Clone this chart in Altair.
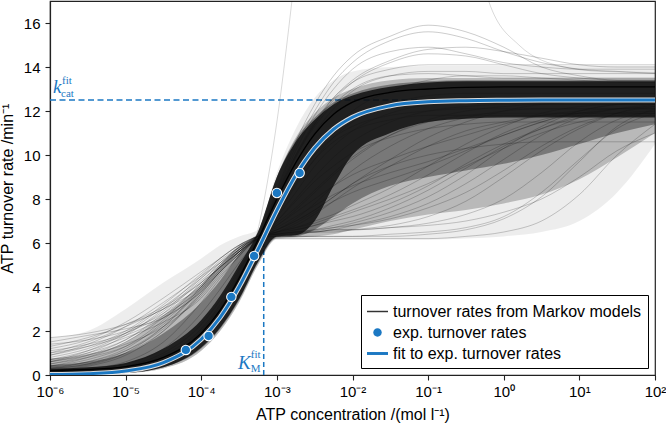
import altair as alt
import pandas as pd

# ---------------------------------------------------------------- data
# concentration grid (log10 of mol/l) shared by the model curves
log_grid = [-6, -5.5, -5, -4.5, -4, -3.75, -3.5, -3.25, -3, -2.75, -2.5,
            -2.25, -2, -1.5, -1, -0.5, 0, 0.5, 1, 1.5, 2]
conc_grid = [10.0 ** g for g in log_grid]

# fitted Michaelis-Menten parameters
k_cat = 12.5        # 1/min
K_M = 6.7e-4        # mol/l

# fitted curve tabulated on the grid
fit_rate = [0.019, 0.059, 0.184, 0.563, 1.623, 2.621, 4.008, 5.704, 7.485,
            9.079, 10.315, 11.169, 11.715, 12.24, 12.417, 12.47, 12.49,
            12.5, 12.5, 12.5, 12.5]

# experimental turnover rates
exp_conc = [6.25e-5, 1.25e-4, 2.5e-4, 5.0e-4, 1.0e-3, 2.0e-3]
exp_rate = [1.14, 1.77, 3.55, 5.41, 8.27, 9.18]

# representative Markov model (drawn solid black)
reference_model = [0.2, 0.25, 0.38, 0.8, 1.9, 2.95, 4.4, 6.15, 8.0, 9.65,
                   10.95, 11.85, 12.4, 12.85, 13.0, 13.07, 13.1, 13.1, 13.1,
                   13.1, 13.1]

# density envelopes of the Markov-model ensemble (lower / upper)
outer_lo = [0.0, 0.02, 0.08, 0.3, 1.1, 2.0, 3.3, 5.0, 6.15, 6.15, 6.15, 6.15,
            6.15, 6.15, 6.15, 6.2, 6.3, 6.5, 7.0, 8.3, 10.5]
outer_hi = [1.7, 2.0, 3.0, 4.2, 5.3, 5.9, 6.3, 6.6, 9.2, 11.2, 12.6, 13.4,
            13.8, 14.0, 14.05, 14.05, 14.05, 14.05, 14.05, 14.05, 14.05]
mid_lo = [0.0, 0.02, 0.08, 0.3, 1.1, 2.0, 3.3, 5.0, 6.2, 6.25, 6.3, 6.4, 6.6,
          7.0, 7.3, 7.5, 7.8, 8.2, 8.9, 9.9, 11.0]
mid_hi = [0.75, 0.95, 1.5, 2.7, 4.1, 5.0, 5.9, 6.45, 9.0, 10.8, 11.9, 12.6,
          13.0, 13.4, 13.5, 13.5, 13.5, 13.5, 13.5, 13.5, 13.5]
dense_lo = [0.0, 0.02, 0.09, 0.35, 1.2, 2.1, 3.4, 5.1, 6.25, 6.3, 6.6, 7.2,
            7.8, 8.6, 9.0, 9.3, 9.6, 10.0, 10.5, 11.0, 11.4]
dense_hi = [0.45, 0.6, 1.0, 1.9, 3.3, 4.3, 5.5, 6.5, 9.0, 10.7, 11.7, 12.4,
            12.8, 13.2, 13.35, 13.4, 13.4, 13.4, 13.4, 13.4, 13.4]
core_lo = [0.0, 0.02, 0.09, 0.35, 1.25, 2.15, 3.45, 5.15, 6.3, 6.35, 7.0, 8.6,
           10.0, 11.0, 11.5, 11.65, 11.7, 11.7, 11.7, 11.7, 11.7]
core_hi = [0.28, 0.35, 0.55, 1.2, 2.5, 3.6, 5.0, 6.5, 9.0, 10.6, 11.6, 12.3,
           12.7, 13.1, 13.3, 13.35, 13.35, 13.35, 13.35, 13.35, 13.35]

# individual Markov-model curves on the grid
model_curves = [
    [1.7, 1.9, 2.3, 3.0, 4.2, 4.9, 5.6, 6.2, 6.4, 6.5, 6.6, 6.7, 6.8, 7.1, 7.6, 8.3, 9.3, 10.4, 11.3, 11.9, 12.2],
    [1.2, 1.6, 2.4, 3.5, 4.7, 5.3, 5.9, 6.3, 6.4, 6.4, 6.5, 6.5, 6.6, 6.8, 7.2, 7.9, 9.0, 10.2, 11.2, 11.9, 12.3],
    [0.9, 1.3, 2.0, 3.2, 4.6, 5.3, 5.9, 6.3, 6.5, 6.7, 7.0, 7.3, 7.7, 8.5, 9.5, 10.5, 11.3, 11.9, 12.2, 12.3, 12.3],
    [0.6, 1.0, 1.8, 3.0, 4.5, 5.3, 5.9, 6.3, 6.6, 7.0, 7.5, 8.1, 8.7, 9.8, 10.8, 11.5, 12.0, 12.3, 12.4, 12.4, 12.4],
    [1.5, 1.8, 2.1, 2.6, 3.8, 4.7, 5.5, 6.2, 6.3, 6.3, 6.3, 6.3, 6.3, 6.4, 6.5, 6.7, 7.2, 8.3, 9.8, 11.2, 11.9],
    [0.4, 0.7, 1.3, 2.5, 4.2, 5.1, 5.8, 6.3, 6.8, 7.5, 8.3, 9.1, 9.8, 10.9, 11.6, 12.0, 12.2, 12.3, 12.3, 12.3, 12.3],
    [1.0, 1.5, 2.2, 3.0, 4.0, 4.8, 5.6, 6.2, 6.4, 6.5, 6.5, 6.6, 6.6, 6.7, 6.9, 7.3, 8.0, 9.2, 10.6, 11.6, 12.0],
    [0.3, 0.5, 1.0, 2.0, 3.7, 4.7, 5.6, 6.3, 7.0, 8.0, 9.0, 9.9, 10.6, 11.5, 12.0, 12.2, 12.3, 12.3, 12.3, 12.3, 12.3],
    [0.8, 1.2, 1.9, 2.7, 3.9, 4.7, 5.5, 6.2, 6.5, 6.6, 6.8, 7.0, 7.2, 7.8, 8.6, 9.6, 10.5, 11.2, 11.7, 11.9, 12.0],
    [0.2, 0.3, 0.6, 1.5, 3.3, 4.4, 5.4, 6.3, 7.2, 8.3, 9.5, 10.4, 11.1, 11.9, 12.3, 12.5, 12.5, 12.5, 12.5, 12.5, 12.5],
    [0.5, 0.9, 1.6, 2.8, 4.3, 5.0, 5.7, 6.3, 6.4, 6.5, 6.5, 6.6, 6.6, 6.7, 6.8, 7.0, 7.4, 8.0, 9.0, 10.2, 11.0],
    [0.7, 1.1, 1.7, 2.4, 3.5, 4.5, 5.4, 6.2, 6.5, 6.8, 7.3, 7.9, 8.5, 9.5, 10.4, 11.1, 11.5, 11.8, 11.9, 11.9, 11.9],
    [0.3, 0.6, 1.2, 2.4, 4.0, 5.0, 5.7, 6.3, 6.6, 7.0, 7.5, 8.1, 8.7, 9.5, 10.0, 10.3, 10.5, 10.6, 10.6, 10.6, 10.6],
    [1.3, 1.7, 2.3, 3.1, 4.2, 4.9, 5.6, 6.1, 6.2, 6.2, 6.2, 6.2, 6.2, 6.2, 6.2, 6.3, 6.5, 7.0, 8.2, 10.0, 11.4],
    [0.9, 1.4, 2.2, 3.3, 4.5, 5.1, 5.7, 6.2, 6.3, 6.3, 6.3, 6.3, 6.3, 6.3, 6.4, 6.6, 7.1, 8.1, 9.7, 11.3, 12.1],
    [0.15, 0.25, 0.5, 1.2, 2.8, 3.9, 5.1, 6.2, 7.3, 8.6, 9.8, 10.8, 11.5, 12.3, 12.7, 12.8, 12.8, 12.8, 12.8, 12.8, 12.8],
    [0.2, 0.4, 0.9, 2.0, 3.8, 4.8, 5.7, 6.3, 6.9, 7.6, 8.4, 9.2, 9.9, 10.9, 11.5, 11.8, 11.9, 11.9, 11.9, 11.9, 11.9],
    [0.4, 0.8, 1.5, 2.6, 4.0, 4.9, 5.7, 6.3, 6.5, 6.7, 6.9, 7.2, 7.5, 8.2, 9.1, 10.1, 11.0, 11.6, 11.9, 12.0, 12.0],
    [1.1, 1.4, 1.9, 2.9, 4.4, 5.2, 5.8, 6.3, 6.4, 6.5, 6.6, 6.8, 7.0, 7.6, 8.4, 9.4, 10.4, 11.2, 11.8, 12.1, 12.2],
    [0.6, 0.9, 1.4, 2.2, 3.6, 4.6, 5.5, 6.2, 6.6, 7.1, 7.8, 8.6, 9.3, 10.4, 11.2, 11.7, 12.0, 12.1, 12.1, 12.1, 12.1],
    [0.3, 0.5, 1.1, 2.2, 3.9, 4.9, 5.7, 6.3, 6.8, 7.4, 8.0, 8.6, 9.1, 9.8, 10.4, 10.9, 11.4, 11.8, 12.0, 12.1, 12.1],
    [0.7, 1.0, 1.6, 2.7, 4.1, 4.9, 5.6, 6.2, 6.5, 6.9, 7.4, 7.9, 8.3, 8.9, 9.5, 10.2, 10.9, 11.5, 11.9, 12.1, 12.2],
    [1.4, 1.6, 2.0, 2.8, 4.1, 4.9, 5.6, 6.2, 6.3, 6.4, 6.5, 6.6, 6.8, 7.2, 7.8, 8.7, 9.8, 10.9, 11.7, 12.1, 12.3],
    [0.25, 0.45, 1.0, 2.2, 4.0, 5.0, 5.8, 6.3, 7.5, 8.9, 10.0, 10.8, 11.3, 11.8, 12.0, 12.1, 12.1, 12.1, 12.1, 12.1, 12.1],
    [0.5, 0.8, 1.3, 2.3, 3.9, 4.8, 5.6, 6.3, 6.7, 7.2, 7.7, 8.2, 8.6, 9.2, 9.7, 10.3, 10.9, 11.5, 12.0, 12.3, 12.4],
    [1.0, 1.3, 1.8, 2.6, 3.8, 4.7, 5.5, 6.2, 6.35, 6.45, 6.55, 6.7, 6.9, 7.4, 8.1, 9.1, 10.3, 11.3, 12.0, 12.3, 12.4],
    [0.35, 0.6, 1.1, 2.1, 3.7, 4.7, 5.6, 6.3, 7.0, 7.9, 8.8, 9.5, 10.1, 10.8, 11.2, 11.4, 11.5, 11.5, 11.5, 11.5, 11.5],
    [0.6, 1.1, 1.9, 3.1, 4.4, 5.1, 5.8, 6.3, 6.45, 6.6, 6.8, 7.1, 7.4, 8.0, 8.7, 9.5, 10.3, 11.0, 11.5, 11.8, 11.9],
    [0.05, 0.1, 0.2, 0.6, 1.8, 2.9, 4.4, 6.1, 8.3, 10.4, 12.0, 13.3, 14.2, 15.2, 15.6, 15.3, 14.7, 14.2, 13.9, 13.8, 13.7],
    [0.05, 0.1, 0.25, 0.7, 1.9, 3.0, 4.5, 6.1, 8.2, 10.2, 11.8, 13.0, 13.9, 14.7, 14.9, 14.6, 14.2, 14.0, 13.9, 13.9, 13.9],
    [0.1, 0.15, 0.3, 0.8, 2.0, 3.1, 4.6, 6.2, 8.0, 9.9, 11.4, 12.6, 13.4, 14.3, 14.8, 14.9, 14.7, 14.4, 14.1, 14.0, 14.0],
    [0.05, 0.1, 0.2, 0.6, 1.7, 2.8, 4.3, 6.0, 8.1, 10.0, 11.5, 12.6, 13.3, 13.9, 14.1, 14.1, 14.1, 14.1, 14.1, 14.1, 14.1],
    [0.05, 0.08, 0.2, 0.55, 1.7, 2.8, 4.4, 6.1, 8.4, 10.6, 12.3, 13.6, 14.5, 15.4, 15.9, 15.6, 14.9, 14.0, 13.6, 13.4, 13.4],
    [0.1, 0.2, 0.35, 0.9, 2.1, 3.2, 4.7, 6.2, 7.9, 9.6, 11.0, 12.1, 12.9, 13.6, 13.8, 13.8, 13.7, 13.7, 13.7, 13.7, 13.7],
    [0.05, 0.1, 0.2, 0.6, 1.8, 2.9, 4.5, 6.1, 8.1, 9.9, 11.3, 12.3, 13.0, 13.6, 13.7, 13.6, 13.5, 13.5, 13.5, 13.5, 13.5],
    [0.08, 0.12, 0.25, 0.7, 1.9, 3.0, 4.5, 6.1, 8.2, 10.0, 11.4, 12.5, 13.3, 14.2, 14.6, 14.5, 14.1, 13.7, 13.5, 13.4, 13.4],
    [0.1, 0.2, 0.4, 1.0, 2.3, 3.4, 4.8, 6.2, 7.6, 9.0, 10.2, 11.2, 12.0, 12.9, 13.4, 13.6, 13.6, 13.5, 13.4, 13.3, 13.3],
    [0.05, 0.1, 0.2, 0.6, 1.6, 2.6, 4.0, 5.6, 7.3, 8.7, 9.8, 10.6, 11.1, 11.6, 11.8, 11.8, 11.8, 11.8, 11.8, 11.8, 11.8],
]

# one model that shoots off the top of the axis and comes back down
outlier_log = [-6, -5, -4.5, -4, -3.5, -3.25, -3, -2.75, -2.5, -1.5, -0.5,
               -0.2, 0.2, 0.8, 1.3, 2]
outlier_rate = [0.05, 0.2, 0.5, 1.5, 4.0, 6.6, 11.5, 18.5, 26, 32, 24, 17,
                15.0, 14.0, 13.8, 13.75]

series_names = ["turnover rates from Markov models", "exp. turnover rates",
                "fit to exp. turnover rates"]

# x-axis tick positions (powers of ten)
tick_exponents = list(range(-6, 3))

# ---------------------------------------------------------------- styling
BLUE = "#1b78c3"
FONT = "Liberation Sans"
SERIF = "Liberation Serif"

x_scale = alt.Scale(type="log", domain=[1e-6, 1e2], nice=False)
y_scale = alt.Scale(domain=[0, 17], nice=False, zero=False)

SUP = {"-": "⁻", "0": "⁰", "1": "¹", "2": "²", "3": "³", "4": "⁴",
       "5": "⁵", "6": "⁶", "7": "⁷", "8": "⁸", "9": "⁹"}
label_expr = "''"
for e in reversed(tick_exponents):
    s = "".join(SUP[c] for c in str(e))
    label_expr = f"(round(log(datum.value)/LN10) == {e} ? '{s}' : {label_expr})"
label_expr = "'10' + " + label_expr

x_axis = alt.Axis(values=[10.0 ** e for e in tick_exponents], labelExpr=label_expr,
                  title="ATP concentration /(mol l⁻¹)", grid=False,
                  tickSize=5, labelPadding=4, titlePadding=7, labelFlush=False,
                  labelOverlap=False)
y_axis = alt.Axis(values=list(range(0, 17, 2)), title="ATP turnover rate /min⁻¹",
                  grid=False, tickSize=5, labelPadding=5, titlePadding=8)


def X(field="conc"):
    return alt.X(f"{field}:Q", scale=x_scale, axis=x_axis)


def Y(field="rate"):
    return alt.Y(f"{field}:Q", scale=y_scale, axis=y_axis)


# ---------------------------------------------------------------- tables
bands = pd.DataFrame({
    "conc": conc_grid,
    "outer_lo": outer_lo, "outer_hi": outer_hi,
    "mid_lo": mid_lo, "mid_hi": mid_hi,
    "dense_lo": dense_lo, "dense_hi": dense_hi,
    "core_lo": core_lo, "core_hi": core_hi,
})

curves = pd.DataFrame([
    {"conc": c, "rate": r, "model": i}
    for i, vals in enumerate(model_curves)
    for c, r in zip(conc_grid, vals)
])
outlier = pd.DataFrame({"conc": [10.0 ** g for g in outlier_log], "rate": outlier_rate})
ref_df = pd.DataFrame({"conc": conc_grid, "rate": reference_model})
fit_df = pd.DataFrame({"conc": conc_grid, "rate": fit_rate})
exp_df = pd.DataFrame({"conc": exp_conc, "rate": exp_rate, "series": series_names[1]})

kcat_df = pd.DataFrame({"conc": [1e-6, 1e2], "rate": [k_cat, k_cat]})
km_df = pd.DataFrame({"conc": [K_M, K_M], "rate": [0, k_cat / 2]})

# ---------------------------------------------------------------- layers
kcat_line = alt.Chart(kcat_df).mark_line(
    color=BLUE, strokeWidth=1.5, strokeDash=[6, 3.5], clip=True
).encode(x=X(), y=Y())
km_line = alt.Chart(km_df).mark_line(
    color=BLUE, strokeWidth=1.5, strokeDash=[5, 3], clip=True
).encode(x=X(), y=Y())


def band(lo, hi, color, opacity):
    return alt.Chart(bands).mark_area(
        color=color, opacity=opacity, interpolate="monotone", clip=True
    ).encode(x=X(), y=Y(lo), y2=alt.Y2(hi))


outer_band = band("outer_lo", "outer_hi", "#000000", 0.07)
mid_band = band("mid_lo", "mid_hi", "#000000", 0.22)
dense_band = band("dense_lo", "dense_hi", "#000000", 0.35)
core_band = band("core_lo", "core_hi", "#111111", 0.85)

model_lines = alt.Chart(curves).mark_line(
    color="#000000", opacity=0.2, strokeWidth=1, interpolate="monotone", clip=True
).encode(x=X(), y=Y(), detail="model:N")

outlier_line = alt.Chart(outlier).mark_line(
    color="#000000", opacity=0.15, strokeWidth=1, interpolate="monotone", clip=True
).encode(x=X(), y=Y())

ref_line = alt.Chart(ref_df).mark_line(
    color="#000000", strokeWidth=1.3, interpolate="monotone", clip=True
).encode(x=X(), y=Y())

fit_halo = alt.Chart(fit_df).mark_line(
    color="#ffffff", strokeWidth=5, opacity=0.85, interpolate="monotone", clip=True
).encode(x=X(), y=Y())
fit_line = alt.Chart(fit_df).mark_line(
    color=BLUE, strokeWidth=3, interpolate="monotone", clip=True
).encode(x=X(), y=Y())

point_halo = alt.Chart(exp_df).mark_point(
    filled=True, color="#ffffff", size=110, opacity=1, shape="circle"
).encode(x=X(), y=Y())

# legend symbols: thin line, dot, thick line (paths in the unit square)
thin_bar = "M-1,-0.07L1,-0.07L1,0.07L-1,0.07Z"
dot = "M-0.4,0A0.4,0.4,0,1,1,0.4,0A0.4,0.4,0,1,1,-0.4,0Z"
thick_bar = "M-1,-0.14L1,-0.14L1,0.14L-1,0.14Z"

legend = alt.Legend(title=None, orient="bottom-right", offset=7,
                    labelFont=FONT, labelFontSize=16, labelColor="black",
                    labelOffset=5, symbolSize=441, symbolStrokeWidth=0,
                    symbolOpacity=1, rowPadding=2, padding=6,
                    strokeColor="#000000", fillColor="#ffffff", cornerRadius=0,
                    labelLimit=400)

points = alt.Chart(exp_df).mark_point(
    filled=True, size=441, opacity=1, strokeWidth=0
).encode(
    x=X(), y=Y(),
    color=alt.Color("series:N", legend=legend,
                    scale=alt.Scale(domain=series_names, range=["#333333", BLUE, BLUE])),
    shape=alt.Shape("series:N", legend=legend,
                    scale=alt.Scale(domain=series_names, range=[thin_bar, dot, thick_bar])),
)

# parameter annotations
kcat_anchor = pd.DataFrame({"conc": [1e-6], "rate": [k_cat]})
km_anchor = pd.DataFrame({"conc": [K_M], "rate": [0.0]})


def note(df, text, size, dx, dy, italic=False, align="left"):
    return alt.Chart(df).mark_text(
        text=text, font=SERIF, fontSize=size, color=BLUE, align=align,
        baseline="alphabetic", dx=dx, dy=dy,
        fontStyle="italic" if italic else "normal",
    ).encode(x=X(), y=Y())


annotations = [
    note(kcat_anchor, "k", 19, 3, -7, italic=True),
    note(kcat_anchor, "fit", 11, 12, -16),
    note(kcat_anchor, "cat", 11, 11, -3),
    note(km_anchor, "K", 19, -13, -6, italic=True, align="right"),
    note(km_anchor, "fit", 11, -13, -17),
    note(km_anchor, "M", 11, -13, -3),
]

chart = alt.layer(
    kcat_line, km_line, outer_band, mid_band, dense_band, model_lines,
    outlier_line, core_band, ref_line, fit_halo, fit_line, point_halo, points,
    *annotations
).properties(
    width=605, height=374,
    autosize=alt.AutoSizeParams(type="none"),
    padding={"left": 50, "top": 1, "right": 11, "bottom": 50},
).configure_view(
    stroke="#222222", strokeWidth=1.2
).configure_axis(
    labelFont=FONT, titleFont=FONT, labelFontSize=15, titleFontSize=16,
    titleFontWeight="normal", labelColor="black", titleColor="black",
    domainColor="#222222", tickColor="#222222", domainWidth=1.2, tickWidth=1.1,
).configure_legend(
    symbolStrokeWidth=0
)

chart.save("out.html", embed_options={"renderer": "svg", "actions": False})
